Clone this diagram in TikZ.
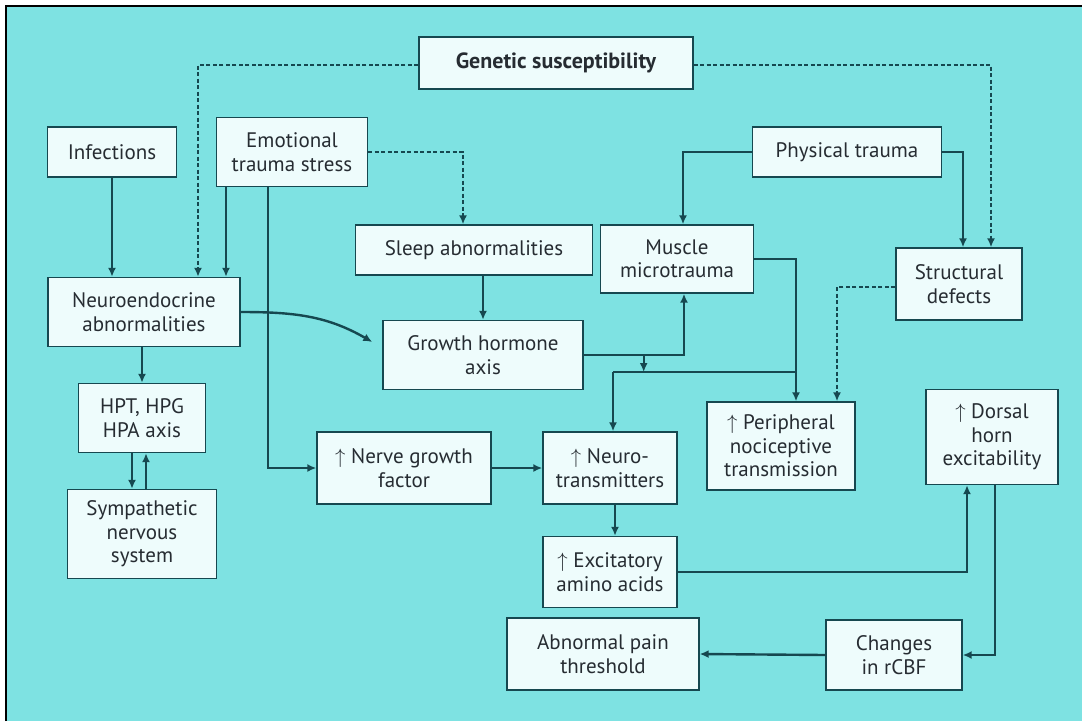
\documentclass[tikz,border=0pt]{standalone}
\usepackage{fontspec}
\setmainfont{PT Sans}
\usetikzlibrary{arrows.meta}

\definecolor{bgcyan}{RGB}{126,226,226}
\definecolor{boxfill}{RGB}{238,252,252}
\definecolor{linecol}{RGB}{22,72,80}
\definecolor{textcol}{RGB}{38,44,50}

\tikzset{
  box/.style = {draw=linecol, fill=boxfill, line width=1.4pt, inner sep=0pt,
                align=center, text=textcol, font=\fontsize{21}{23.5}\selectfont},
  link/.style = {draw=linecol, line width=2.4pt},
  arr/.style = {link, -{Latex[length=9pt,width=8pt]}},
  dotted link/.style = {arr, line width=2pt, dash pattern=on 4pt off 2.5pt}
}

\begin{document}
\begin{tikzpicture}[x=1pt,y=-1pt]
\useasboundingbox (0,0) rectangle (1082,721);
\fill[white] (0,0) rectangle (1082,721);
\fill[bgcyan] (6,6) rectangle (1082,721);
\draw[black, line width=2.5pt] (6,721) -- (6,6) -- (1082,6);

% top row
\node[box, minimum width=274, minimum height=52, font=\fontsize{22}{24}\selectfont\bfseries] (gen) at (556,63) {Genetic susceptibility};
\node[box, minimum width=129, minimum height=50] (inf) at (112,152) {Infections};
\node[box, minimum width=151, minimum height=69] (emo) at (292,152) {Emotional\\trauma stress};
\node[box, minimum width=189, minimum height=50] (phys) at (847,152) {Physical trauma};

% second row
\node[box, minimum width=237, minimum height=50] (sleep) at (474,250) {Sleep abnormalities};
\node[box, minimum width=153, minimum height=68] (mus) at (677,259) {Muscle\\microtrauma};
\node[box, minimum width=126, minimum height=72] (struct) at (959,284) {Structural\\defects};
\node[box, minimum width=192, minimum height=69] (neuro) at (144,312) {Neuroendocrine\\abnormalities};
\node[box, minimum width=200, minimum height=69] (gh) at (483,355) {Growth hormone\\axis};

% lower rows
\node[box, minimum width=127, minimum height=69] (hpt) at (142,418) {HPT, HPG\\HPA axis};
\node[box, minimum width=149, minimum height=89] (symp) at (142,534) {Sympathetic\\nervous\\system};
\node[box, minimum width=174, minimum height=72] (ngf) at (404,468) {$\uparrow$ Nerve growth\\factor};
\node[box, minimum width=134, minimum height=72] (nt) at (610,468) {$\uparrow$ Neuro-\\transmitters};
\node[box, minimum width=148, minimum height=88] (per) at (781,446) {$\uparrow$ Peripheral\\nociceptive\\transmission};
\node[box, minimum width=132, minimum height=95] (dor) at (992,437) {$\uparrow$ Dorsal\\horn\\excitability};
\node[box, minimum width=134, minimum height=71] (exc) at (610,572) {$\uparrow$ Excitatory\\amino acids};
\node[box, minimum width=192, minimum height=72] (pain) at (603,654) {Abnormal pain\\threshold};
\node[box, minimum width=136, minimum height=70] (cbf) at (894,655) {Changes\\in rCBF};

\coordinate (bus) at (796,372);
\coordinate (tap) at ([xshift=60pt]gh.east);

% genetic links
\draw[dotted link] ([yshift=-2pt]gen.west) -| ([xshift=54pt]neuro.north);
\draw[dotted link] ([yshift=-2pt]gen.east) -| ([xshift=32pt]struct.north);

% left side
\draw[arr] (inf.south) -- (inf.south |- neuro.north);
\draw[arr] ([xshift=-66pt]emo.south) -- ([xshift=-66pt]emo.south |- neuro.north);
\draw[arr] ([xshift=-24pt]emo.south) |- (ngf.west);
\draw[dotted link] (emo.east) -| ([xshift=-11pt]sleep.north);
\draw[arr] (hpt.north |- neuro.south) -- (hpt.north);
\draw[arr] ([xshift=-10pt]hpt.south) -- ([xshift=-10pt]hpt.south |- symp.north);
\draw[arr] ([xshift=4pt]hpt.south |- symp.north) -- ([xshift=4pt]hpt.south);
\draw[arr] (neuro.east) to[out=0, in=150] ([xshift=-10pt,yshift=13pt]gh.west);

% middle
\draw[arr] (gh.north |- sleep.south) -- (gh.north);
\draw[arr] (gh.east) -| ([xshift=7pt]mus.south);
\draw[arr] (tap) -- (tap |- bus);
\draw[arr] ([xshift=3pt]nt.north |- bus) -- ([xshift=3pt]nt.north);
\draw[link] (mus.east) -| (bus) -| ([xshift=3pt]nt.north |- bus);
\draw[arr] (bus) -- ([xshift=15pt]per.north);
\draw[arr] (ngf.east) -- (nt.west);
\draw[arr] ([xshift=5pt]nt.south) -- ([xshift=5pt]exc.north);

% right side
\draw[arr] (phys.west) -| ([xshift=6pt]mus.north);
\draw[arr] (phys.east) -| ([xshift=4pt]struct.north);
\draw[dotted link] ([yshift=-3pt]struct.west) -| ([xshift=56pt]per.north);
\draw[arr] (exc.east) -| ([xshift=-25pt]dor.south);
\draw[arr] ([xshift=3pt]dor.south) |- (cbf.east);
\draw[arr] (cbf.west) -- (pain.east);
\end{tikzpicture}
\end{document}
